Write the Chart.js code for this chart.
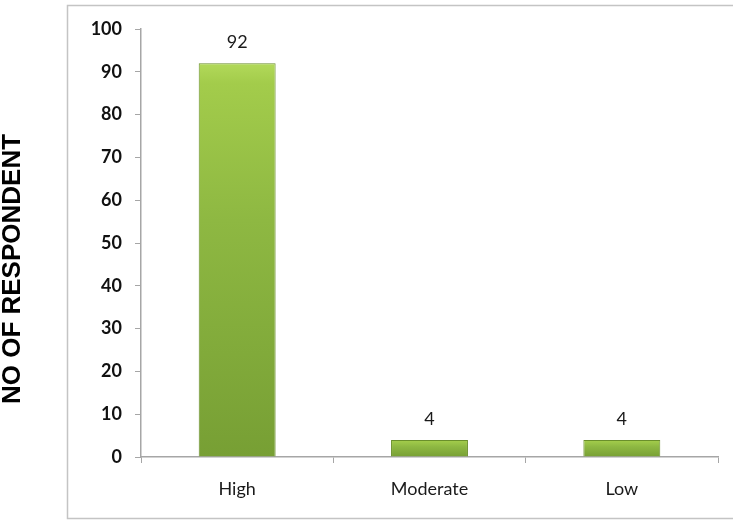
<!DOCTYPE html>
<html>
<head>
<meta charset="utf-8">
<script src="https://cdn.jsdelivr.net/npm/chart.js@4.4.1/dist/chart.umd.min.js"></script>
<style>
  html, body { margin: 0; padding: 0; background: #ffffff; }
  #wrap { width: 733px; height: 523px; position: relative; }
</style>
</head>
<body>
<div id="wrap"><canvas id="c" width="733" height="523"></canvas></div>
<script>
// Responses grouped by level
const categories = ['High', 'Moderate', 'Low'];
const respondents = [92, 4, 4];
const yTicks = [0, 10, 20, 30, 40, 50, 60, 70, 80, 90, 100];
const yTitle = 'NO OF RESPONDENT';

const axisGray = '#a6a6a6';

// Vertical green gradient spanning each bar from its top to the baseline
function barFill(ctx) {
  const chart = ctx.chart;
  const yScale = chart.scales.y;
  if (!yScale || ctx.dataIndex === undefined) return '#8db543';
  const v = ctx.dataset.data[ctx.dataIndex];
  const top = yScale.getPixelForValue(v);
  const base = yScale.getPixelForValue(0);
  if (!isFinite(top) || !isFinite(base) || top === base) return '#8db543';
  const g = chart.ctx.createLinearGradient(0, top, 0, base);
  g.addColorStop(0, '#b2d95a');
  g.addColorStop(0.05, '#a3cc4b');
  g.addColorStop(0.4, '#8eb842');
  g.addColorStop(1, '#779f34');
  return g;
}

// Light frame around the chart body, with the rotated axis caption beside it
const framePlugin = {
  id: 'frame',
  beforeDraw(chart) {
    const c = chart.ctx;
    c.save();
    c.strokeStyle = '#c4c4c4';
    c.lineWidth = 1.5;
    c.beginPath();
    c.moveTo(chart.width + 2, 5.5);
    c.lineTo(67.5, 5.5);
    c.lineTo(67.5, 518.5);
    c.lineTo(chart.width + 2, 518.5);
    c.stroke();

    c.translate(13, 269);
    c.rotate(-Math.PI / 2);
    c.font = '700 26px "Liberation Sans", Arial, sans-serif';
    c.fillStyle = '#000000';
    c.textAlign = 'center';
    c.textBaseline = 'middle';
    c.fillText(yTitle, 0, 0);
    c.restore();
  }
};

// Value written above each bar
const valueLabels = {
  id: 'valueLabels',
  afterDatasetsDraw(chart) {
    const c = chart.ctx;
    const meta = chart.getDatasetMeta(0);
    c.save();
    c.font = '400 18px Lato, "Open Sans", sans-serif';
    c.fillStyle = '#1a1a1a';
    c.textAlign = 'center';
    c.textBaseline = 'bottom';
    meta.data.forEach((bar, i) => {
      c.fillText(String(chart.data.datasets[0].data[i]), bar.x, bar.y - 12);
    });
    c.restore();
  }
};

new Chart(document.getElementById('c'), {
  type: 'bar',
  data: {
    labels: categories,
    datasets: [{
      data: respondents,
      backgroundColor: barFill,
      borderColor: '#6a8f2b',
      borderWidth: 1,
      barPercentage: 0.8,
      categoryPercentage: 0.5
    }]
  },
  options: {
    responsive: false,
    animation: false,
    devicePixelRatio: 1,
    layout: { padding: { left: 0, top: 29, right: 15, bottom: 0 } },
    plugins: {
      legend: { display: false },
      tooltip: { enabled: false }
    },
    scales: {
      x: {
        offset: true,
        grid: {
          display: true,
          offset: true,
          drawOnChartArea: false,
          drawTicks: true,
          tickLength: 6,
          color: axisGray,
          lineWidth: 1
        },
        border: { display: true, color: axisGray, width: 1.5 },
        ticks: {
          color: '#1a1a1a',
          font: { family: 'Lato, "Open Sans", sans-serif', size: 18, weight: '400' },
          padding: 15
        },
        afterFit(scale) { scale.height = 66; }
      },
      y: {
        min: 0,
        max: 100,
        afterBuildTicks(scale) { scale.ticks = yTicks.map(v => ({ value: v })); },
        grid: {
          display: true,
          drawOnChartArea: false,
          drawTicks: true,
          tickLength: 6,
          color: axisGray,
          lineWidth: 1
        },
        border: { display: true, color: axisGray, width: 1.5 },
        ticks: {
          color: '#111111',
          font: { family: 'Lato, "Open Sans", sans-serif', size: 18, weight: '700' },
          padding: 13
        },
        afterFit(scale) { scale.width = 141; }
      }
    }
  },
  plugins: [framePlugin, valueLabels]
});
</script>
</body>
</html>
